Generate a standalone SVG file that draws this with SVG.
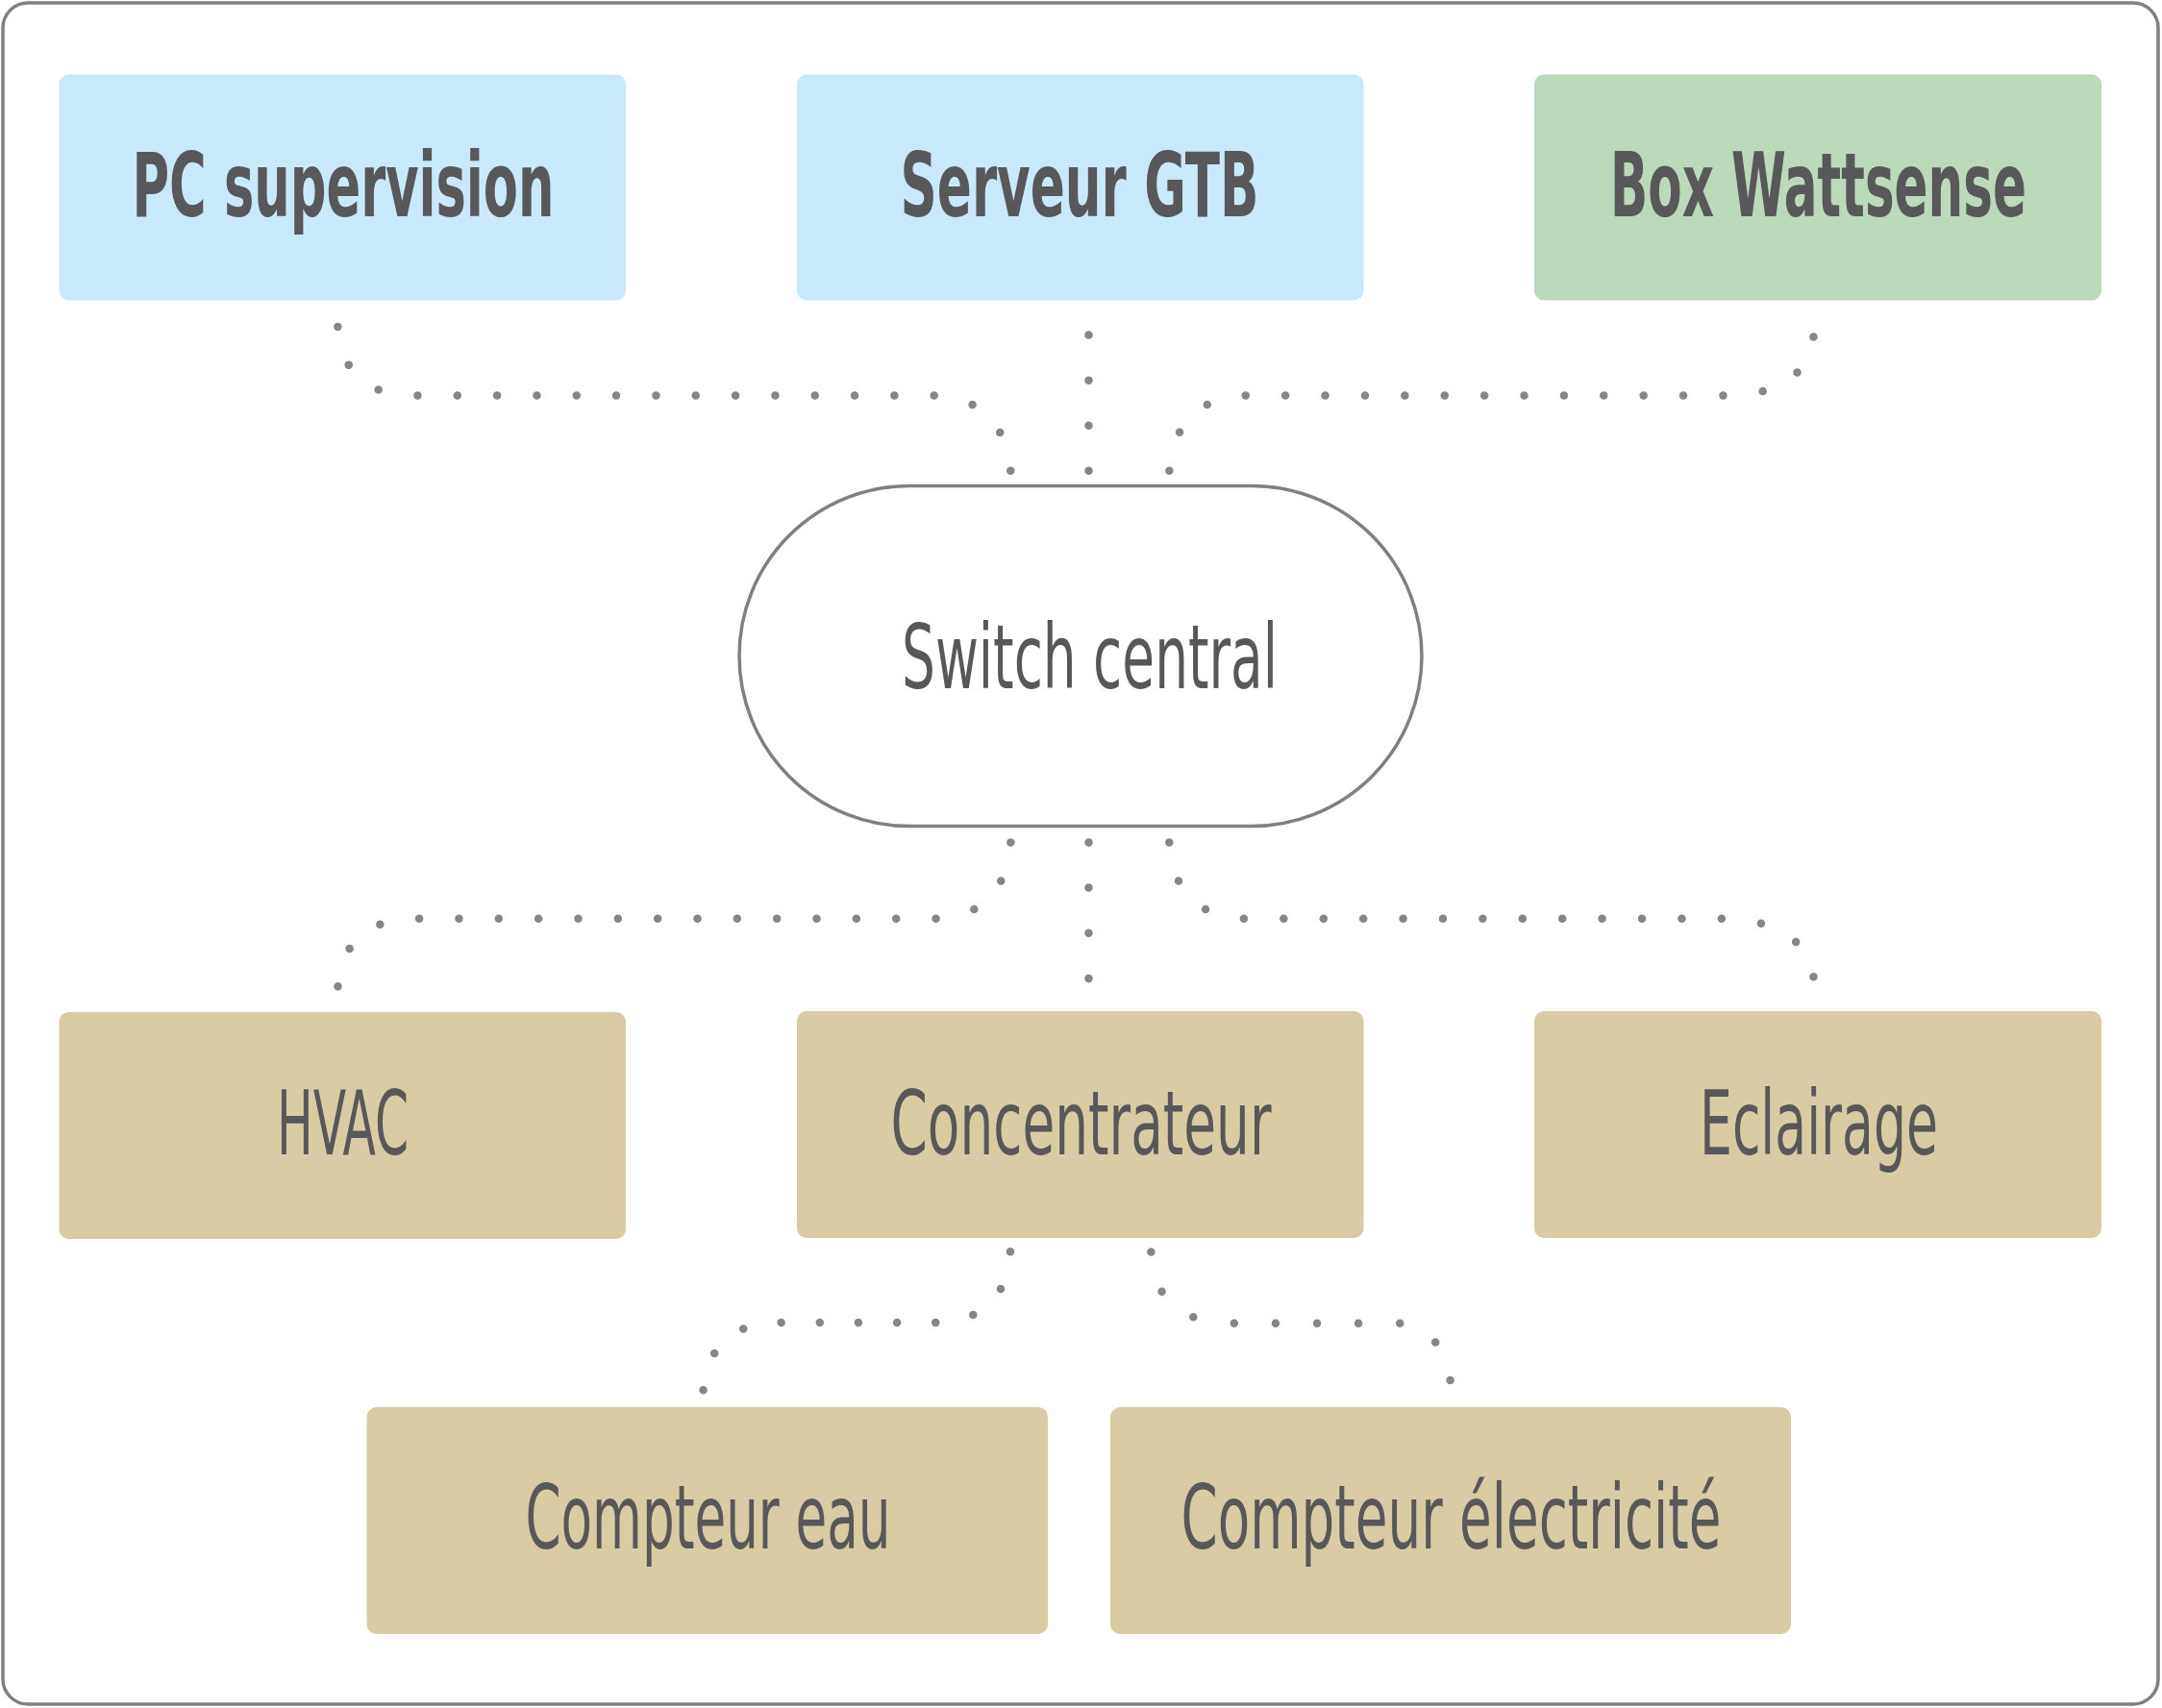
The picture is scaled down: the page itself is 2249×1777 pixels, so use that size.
<svg xmlns="http://www.w3.org/2000/svg" width="2249" height="1777" viewBox="0 0 2249 1777">
<style>
.frame{fill:#ffffff;stroke:#808080;stroke-width:3.5}
.blue{fill:#C9E9FB}
.green{fill:#BCD9BB}
.beige{fill:#D9CBA4}
.sw{fill:#ffffff;stroke:#808080;stroke-width:3.5}
.t{font-family:"Liberation Sans Narrow","DejaVu Sans Condensed","Liberation Sans",sans-serif;font-size:70.8px;fill:#58585A}
.b{font-weight:bold}
.c{fill:none;stroke:#85868A;stroke-width:8.5;stroke-linecap:round;stroke-dasharray:0 1}
</style>
<rect class="frame" x="3" y="3" width="2242" height="1770" rx="26"/>
<g id="connectors">
<path class="c" pathLength="19.02" d="M 351.4 340 C 356 392, 385 411.6, 433 411.6 L 972.5 411.6 C 1015 411.6, 1048 440, 1051.3 490.5"/>
<path class="c" pathLength="3.01" d="M 1132.5 348.6 L 1132.5 490.2"/>
<path class="c" pathLength="18.02" d="M 1886.5 350.5 C 1880 395, 1845 411.6, 1792.3 411.6 L 1295 411.6 C 1252 411.6, 1219 440, 1216.3 490.5"/>
<path class="c" pathLength="19.02" d="M 1051.3 876.4 C 1048 930, 1015 955.8, 972.5 955.8 L 433 955.8 C 388 955.8, 356 975, 351.4 1027"/>
<path class="c" pathLength="3.01" d="M 1132.5 876.4 L 1132.5 1018.4"/>
<path class="c" pathLength="18.02" d="M 1216.3 876.4 C 1219 930, 1252 955.8, 1295 955.8 L 1792.3 955.8 C 1840 955.8, 1882 975, 1886.6 1017"/>
<path class="c" pathLength="10.02" d="M 1051 1302.3 C 1048 1355, 1015 1376, 972.5 1376 L 808.7 1376 C 765 1376, 735 1400, 731.5 1447"/>
<path class="c" pathLength="9.02" d="M 1197.4 1302.4 C 1200 1355, 1232 1376.7, 1282 1376.7 L 1453 1376.7 C 1482 1377, 1505 1400, 1508.7 1437"/>
</g>
<g id="pc-supervision">
<rect class="blue" x="61.5" y="77.5" width="589.5" height="235" rx="10"/>
<text class="t b" transform="translate(137.5 224.5) scale(1 1.3)" textLength="439" lengthAdjust="spacingAndGlyphs">PC supervision</text>
</g>
<g id="serveur-gtb">
<rect class="blue" x="829" y="77.5" width="589.5" height="235" rx="10"/>
<text class="t b" transform="translate(936.6 224.5) scale(1 1.3)" textLength="373" lengthAdjust="spacingAndGlyphs">Serveur GTB</text>
</g>
<g id="box-wattsense">
<rect class="green" x="1596" y="77.5" width="590" height="235" rx="10"/>
<text class="t b" transform="translate(1675 224.5) scale(1 1.3)" textLength="433" lengthAdjust="spacingAndGlyphs">Box Wattsense</text>
</g>
<g id="switch-central">
<rect class="sw" x="769" y="505.5" width="710" height="354" rx="177"/>
<text class="t" transform="translate(938 716) scale(1 1.3)" textLength="391" lengthAdjust="spacingAndGlyphs">Switch central</text>
</g>
<g id="hvac">
<rect class="beige" x="61.5" y="1053" width="589.5" height="236" rx="10"/>
<text class="t" transform="translate(288 1200.5) scale(1 1.3)" textLength="137" lengthAdjust="spacingAndGlyphs">HVAC</text>
</g>
<g id="concentrateur">
<rect class="beige" x="829" y="1052" width="589.5" height="236" rx="10"/>
<text class="t" transform="translate(926.5 1200.5) scale(1 1.3)" textLength="396" lengthAdjust="spacingAndGlyphs">Concentrateur</text>
</g>
<g id="eclairage">
<rect class="beige" x="1596" y="1052" width="590" height="236" rx="10"/>
<text class="t" transform="translate(1768 1200.5) scale(1 1.3)" textLength="248" lengthAdjust="spacingAndGlyphs">Eclairage</text>
</g>
<g id="compteur-eau">
<rect class="beige" x="381.5" y="1464" width="708.5" height="236" rx="10"/>
<text class="t" transform="translate(546.5 1611) scale(1 1.3)" textLength="380" lengthAdjust="spacingAndGlyphs">Compteur eau</text>
</g>
<g id="compteur-electricite">
<rect class="beige" x="1155" y="1464" width="708" height="236" rx="10"/>
<text class="t" transform="translate(1228.5 1611) scale(1 1.3)" textLength="562" lengthAdjust="spacingAndGlyphs">Compteur électricité</text>
</g>
</svg>
